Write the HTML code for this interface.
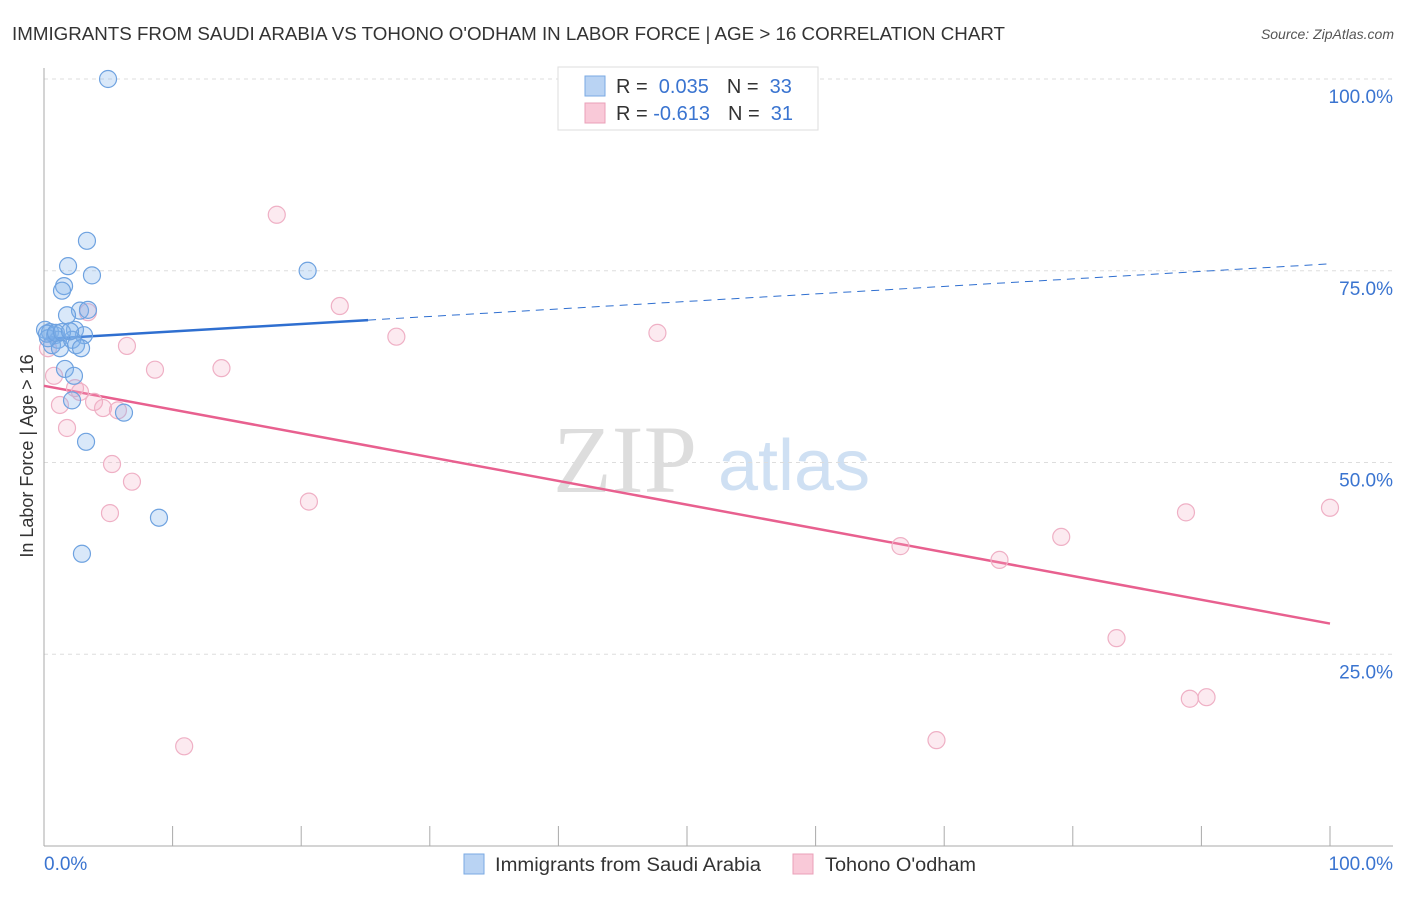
<!DOCTYPE html>
<html><head><meta charset="utf-8"><style>
body{margin:0;background:#fff;font-family:"Liberation Sans",sans-serif;}
</style></head><body>
<svg id="chart" width="1406" height="892" xmlns="http://www.w3.org/2000/svg" font-family="Liberation Sans, sans-serif">
<text x="12" y="40" font-size="18" fill="#333" textLength="993" lengthAdjust="spacingAndGlyphs">IMMIGRANTS FROM SAUDI ARABIA VS TOHONO O'ODHAM IN LABOR FORCE | AGE &gt; 16 CORRELATION CHART</text>
<text x="1394" y="39" font-size="14" fill="#555" font-style="italic" text-anchor="end">Source: ZipAtlas.com</text>
<text x="553" y="492" font-size="96" fill="#ddd" font-family="Liberation Serif, serif">ZIP</text>
<text x="718" y="490" font-size="72" fill="#cfe0f3">atlas</text>
<g id="grid"></g>
<g id="axes"></g>
<g id="trend"></g>
<g id="points"></g>
<text transform="translate(33,456) rotate(-90)" font-size="18" fill="#333" text-anchor="middle">In Labor Force | Age &gt; 16</text>
<g>
<rect x="558" y="67" width="260" height="63" fill="#fff" stroke="#ddd"/>
<rect x="585" y="76" width="20" height="20" fill="#b9d3f3" stroke="#7aa9e3"/>
<rect x="585" y="103" width="20" height="20" fill="#f9c9d8" stroke="#eaa0b8"/>
<text x="616" y="93" font-size="20" fill="#333">R = <tspan fill="#3a74d0">&#160;0.035</tspan><tspan dx="18" fill="#333">N = </tspan><tspan fill="#3a74d0">&#160;33</tspan></text>
<text x="616" y="120" font-size="20" fill="#333">R = <tspan fill="#3a74d0">-0.613</tspan><tspan dx="18" fill="#333">N = </tspan><tspan fill="#3a74d0">&#160;31</tspan></text>
</g>
<g>
<rect x="464" y="854" width="20" height="20" fill="#b9d3f3" stroke="#7aa9e3"/>
<text x="495" y="871" font-size="19" fill="#333" textLength="266" lengthAdjust="spacingAndGlyphs">Immigrants from Saudi Arabia</text>
<rect x="793" y="854" width="20" height="20" fill="#f9c9d8" stroke="#eaa0b8"/>
<text x="825" y="871" font-size="19" fill="#333" textLength="151" lengthAdjust="spacingAndGlyphs">Tohono O'odham</text>
</g>
</svg>
<script>
const blueX=[4.98,3.34,1.87,3.73,1.56,1.40,20.5,2.80,1.79,3.42,0.08,0.47,0.86,1.09,0.62,1.24,2.41,3.11,2.18,2.49,2.88,1.63,2.33,2.18,6.22,3.27,8.94,2.95,0.31,0.23,0.93,1.40,2.02];
const blueY=[100.0,78.9,75.6,74.4,73.0,72.4,75.0,69.8,69.2,69.9,67.3,67.0,66.6,66.0,65.3,64.9,67.3,66.6,66.0,65.3,64.9,62.2,61.3,58.1,56.5,52.7,42.8,38.1,66.2,66.8,66.9,67.0,67.1];
const pinkX=[18.1,23.0,27.4,47.7,3.42,6.45,8.63,13.8,0.78,2.41,2.80,1.24,3.89,4.59,5.75,1.79,5.29,6.84,5.13,20.6,10.9,66.6,74.3,79.1,88.8,100,83.4,89.1,90.4,69.4,0.31];
const pinkY=[82.3,70.4,66.4,66.9,69.6,65.2,62.1,62.3,61.3,59.7,59.2,57.5,57.9,57.1,56.8,54.5,49.8,47.5,43.4,44.9,13.0,39.1,37.3,40.3,43.5,44.1,27.1,19.2,19.4,13.8,64.9];
const blueTrend=[66.1,75.9];
const pinkTrend=[60.0,29.0];
const yTicks=[25,50,75,100];
const yTickLabels=["25.0%","50.0%","75.0%","100.0%"];
const xTicks=[0,10,20,30,40,50,60,70,80,90,100];

const NS="http://www.w3.org/2000/svg";
const sx=v=>44+v*12.86;
const sy=v=>846-v*7.67;
function mk(tag,attrs,parent){const e=document.createElementNS(NS,tag);for(const k in attrs)e.setAttribute(k,attrs[k]);document.getElementById(parent).appendChild(e);return e;}

yTicks.forEach((t,i)=>{
  const l=mk('line',{x1:44,x2:1393,y1:sy(t),y2:sy(t),stroke:'#ddd','stroke-dasharray':'4,4'},'grid');
  
  
  const tx=mk('text',{x:1393,y:sy(t)+24,'font-size':19,fill:'#3a74d0','text-anchor':'end'},'grid');
  tx.textContent=yTickLabels[i];
  
  
});
let a=mk('line',{x1:44,x2:44,y1:68,y2:846,stroke:'#aaa'},'axes');


a=mk('line',{x1:44,x2:1393,y1:846,y2:846,stroke:'#aaa'},'axes');


xTicks.forEach(t=>{
  const l=mk('line',{x1:sx(t),x2:sx(t),y1:826,y2:846,stroke:'#aaa'},'axes');
  
  
});
let t0=mk('text',{x:44,y:870,'font-size':19,fill:'#3a74d0'},'axes');t0.textContent='0.0%';


let t1=mk('text',{x:1393,y:870,'font-size':19,fill:'#3a74d0','text-anchor':'end'},'axes');t1.textContent='100.0%';



const bAt=x=>blueTrend[0]+(blueTrend[1]-blueTrend[0])*x/100;
const pAt=x=>pinkTrend[0]+(pinkTrend[1]-pinkTrend[0])*x/100;
let ln=mk('line',{x1:sx(0),y1:sy(bAt(0)),x2:sx(25.2),y2:sy(bAt(25.2)),stroke:'#2f6fd0','stroke-width':2.5},'trend');


ln=mk('line',{x1:sx(25.2),y1:sy(bAt(25.2)),x2:sx(100),y2:sy(bAt(100)),stroke:'#2f6fd0','stroke-width':1,'stroke-dasharray':'8,6'},'trend');


ln=mk('line',{x1:sx(0),y1:sy(pAt(0)),x2:sx(100),y2:sy(pAt(100)),stroke:'#e8608f','stroke-width':2.5},'trend');



pinkX.forEach((x,i)=>{
  const c=mk('circle',{cx:sx(x),cy:sy(pinkY[i]),r:8.5,fill:'rgba(245,170,196,0.25)',stroke:'#efb0c5','stroke-width':1.2},'points');
  
  
});
blueX.forEach((x,i)=>{
  const c=mk('circle',{cx:sx(x),cy:sy(blueY[i]),r:8.5,fill:'rgba(130,178,235,0.3)',stroke:'#6ea2e0','stroke-width':1.2},'points');
  
  
});
</script>
</body></html>
